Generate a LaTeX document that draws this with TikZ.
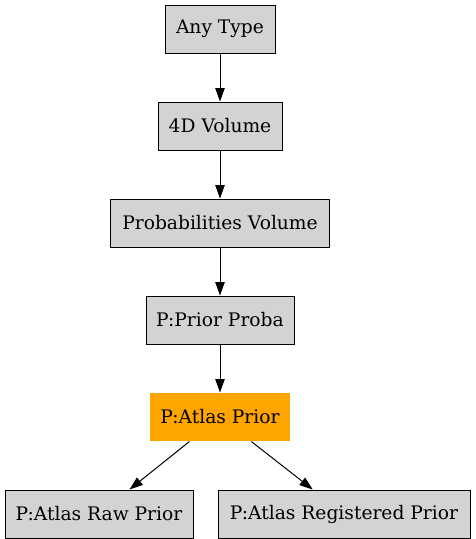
\documentclass[tikz,border=0pt]{standalone}
\usepackage{fontspec}
\setmainfont{DejaVu Serif}
\usetikzlibrary{positioning,arrows.meta}

\definecolor{boxgray}{RGB}{211,211,211}
\definecolor{hotorange}{RGB}{255,165,0}

\begin{document}
\begin{tikzpicture}[
    font=\fontsize{14}{16}\selectfont,
    >={Triangle[length=10pt,width=7pt]},
    node distance=36pt,
    box/.style={draw=black, line width=0.75pt, fill=boxgray, align=center,
                minimum height=36pt, inner sep=2pt},
    hot/.style={box, draw=none, fill=hotorange},
    flow/.style={->, draw=black, line width=0.75pt},
]
\useasboundingbox (0,0) rectangle (356.25pt,-404.25pt);

% ---- Chain ---------------------------------------------------------
\node[box, minimum width=82.5pt] (any) at (165pt,-21.75pt) {Any Type};
\node[box, minimum width=93pt, below=of any] (vol4d) {4D Volume};
\node[box, minimum width=164.25pt, below=of vol4d] (probvol) {Probabilities Volume};
\node[box, minimum width=111pt, below=of probvol] (prior) {P:Prior Proba};
\node[hot, minimum width=105pt, below=of prior] (atlas) {P:Atlas Prior};

% ---- Leaves --------------------------------------------------------
\node[box, minimum width=141pt, below=of atlas, xshift=-90.75pt] (raw) {P:Atlas Raw Prior};
\node[box, minimum width=189pt, below=of atlas, xshift=93pt] (reg) {P:Atlas Registered Prior};

% ---- Edges ---------------------------------------------------------
\draw[flow] (any) -- (vol4d);
\draw[flow] (vol4d) -- (probvol);
\draw[flow] (probvol) -- (prior);
\draw[flow] (prior) -- (atlas);
\draw[flow] (atlas) -- (raw);
\draw[flow] (atlas) -- (reg);

\end{tikzpicture}
\end{document}
